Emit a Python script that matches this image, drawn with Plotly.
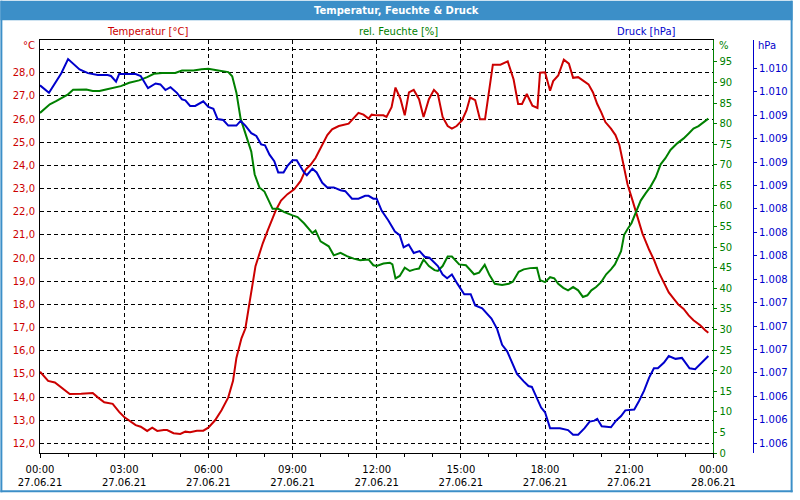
import plotly.graph_objects as go
import pandas as pd

# ---------------- data ----------------
temp_h = [0, 0.29, 0.53, 0.76, 1.06, 1.47, 1.71, 1.88, 2.06, 2.29, 2.59, 2.82, 3.00, 3.18, 3.41, 3.59, 3.82, 4.00,
          4.18, 4.41, 4.53, 4.76, 5.00, 5.18, 5.35, 5.59, 5.82, 6.00,
          6.24, 6.47, 6.71, 6.88, 7.00, 7.18, 7.32, 7.47, 7.59, 7.68, 7.79, 7.94, 8.12, 8.29, 8.41, 8.59, 8.82, 9.06,
          9.29, 9.47, 9.65, 9.82, 10.06, 10.24, 10.41, 10.65, 11.00, 11.18, 11.35, 11.53, 11.71, 11.82, 12.00,
          12.24, 12.35, 12.53, 12.67, 12.85, 13.00, 13.15, 13.32, 13.51, 13.67, 13.86, 14.04, 14.18, 14.35, 14.53,
          14.68, 14.85, 15.04, 15.20, 15.33, 15.51, 15.68, 15.86, 16.00, 16.14, 16.41, 16.67, 16.88, 17.04, 17.18,
          17.35, 17.55, 17.73, 17.82, 18.00,
          18.18, 18.29, 18.47, 18.67, 18.85, 19.00, 19.18, 19.41, 19.55, 19.71, 19.86, 20.00, 20.15, 20.35, 20.51,
          20.65, 20.79, 20.94, 21.12, 21.29, 21.47, 21.71, 21.88, 22.06, 22.24, 22.41, 22.59, 22.76, 22.94, 23.12,
          23.29, 23.53, 23.71, 23.82]
temp_v = [15.10, 14.70, 14.63, 14.42, 14.13, 14.14, 14.18, 14.18, 13.99, 13.78, 13.71, 13.36, 13.14, 13.00, 12.79,
          12.72, 12.54, 12.68, 12.54, 12.58, 12.58, 12.44, 12.41, 12.51, 12.48, 12.55, 12.55, 12.68,
          13.00, 13.43, 13.99, 14.70, 15.69, 16.54, 16.96, 18.09, 18.94, 19.65, 20.07, 20.64, 21.21, 21.77, 22.08,
          22.48, 22.76, 22.97, 23.33, 23.82, 24.04, 24.32, 24.88, 25.31, 25.56, 25.70, 25.80, 26.02, 26.27, 26.19,
          26.02, 26.19, 26.16,
          26.16, 26.09, 26.51, 27.36, 26.86, 26.16, 27.15, 27.26, 26.86, 26.09, 26.86, 27.26, 27.08, 26.09, 25.70,
          25.59, 25.70, 25.94, 26.37, 26.93, 26.82, 25.99, 25.99, 27.22, 28.35, 28.35, 28.49, 27.71, 26.65, 26.65,
          27.08, 26.58, 26.48, 28.00, 28.02,
          27.22, 27.64, 27.88, 28.56, 28.39, 27.78, 27.81, 27.64, 27.50, 27.15, 26.65, 26.30, 25.87, 25.59, 25.31,
          24.88, 24.04, 23.19, 22.48, 21.77, 21.07, 20.36, 19.93, 19.37, 18.94, 18.52, 18.24, 17.98, 17.81, 17.53,
          17.32, 17.10, 16.89, 16.78]

hum_h = [0, 0.18, 0.35, 0.59, 0.76, 1.00, 1.18, 1.47, 1.65, 1.88, 2.12, 2.35, 2.65, 2.88, 3.18, 3.53, 3.82, 4.06,
         4.35, 4.82, 5.06, 5.47, 5.76, 6.00,
         6.35, 6.71, 6.85, 7.00, 7.15, 7.35, 7.53, 7.65, 7.82, 8.00, 8.14, 8.29, 8.49, 8.71, 9.00, 9.18, 9.41, 9.71,
         9.82, 10.00, 10.29, 10.47, 10.71, 10.94, 11.18, 11.41, 11.71, 11.88, 12.00,
         12.24, 12.47, 12.56, 12.67, 12.82, 13.00, 13.18, 13.35, 13.51, 13.67, 13.86, 14.06, 14.18, 14.35, 14.53,
         14.68, 14.94, 15.18, 15.47, 15.65, 15.85, 16.02, 16.21, 16.47, 16.71, 16.85, 17.06, 17.24, 17.47, 17.71,
         17.82, 18.00,
         18.18, 18.33, 18.47, 18.65, 18.82, 19.00, 19.18, 19.35, 19.51, 19.65, 19.82, 20.00, 20.18, 20.35, 20.49,
         20.71, 20.82, 20.96, 21.08, 21.24, 21.41, 21.59, 21.76, 21.94, 22.12, 22.29, 22.47, 22.71, 22.94, 23.12,
         23.29, 23.47, 23.65, 23.82]
hum_v = [82.6, 83.6, 84.7, 85.5, 86.1, 87.1, 88.2, 88.3, 88.3, 87.9, 87.9, 88.3, 88.7, 89.1, 89.9, 90.5, 91.3, 92.1,
         92.3, 92.3, 92.9, 92.9, 93.2, 93.3,
         92.9, 92.5, 91.5, 87.5, 81.2, 77.2, 73.2, 67.7, 64.5, 63.5, 61.3, 59.3, 59.3, 58.5, 57.7, 57.3, 55.8, 53.4,
         54.0, 51.4, 50.2, 48.0, 48.6, 47.8, 47.2, 46.8, 47.0, 45.6, 45.4,
         46.0, 46.2, 45.8, 42.4, 43.0, 45.0, 44.2, 44.6, 44.8, 47.0, 45.4, 44.4, 44.2, 45.4, 47.7, 47.7, 45.8, 45.6,
         43.4, 43.8, 45.7, 43.2, 41.1, 40.8, 41.1, 41.6, 44.0, 44.6, 44.9, 45.0, 42.0, 41.5,
         42.7, 42.4, 41.1, 40.1, 39.5, 40.3, 39.5, 37.9, 38.3, 39.5, 40.3, 41.5, 43.4, 44.6, 45.8, 49.0, 53.0, 54.6,
         55.8, 58.5, 61.3, 63.1, 64.7, 66.9, 70.1, 71.6, 73.6, 75.2, 76.4, 77.6, 78.8, 79.4, 80.4, 81.2]

pres_h = [0, 0.32, 0.76, 1.00, 1.41, 1.71, 2.06, 2.41, 2.53, 2.71, 2.82, 3.41, 3.59, 3.85, 4.12, 4.29, 4.47, 4.65,
          4.88, 5.06, 5.18, 5.35, 5.53, 5.76, 5.82, 6.00,
          6.18, 6.33, 6.53, 6.71, 7.00, 7.15, 7.32, 7.53, 7.71, 7.88, 8.02, 8.18, 8.35, 8.49, 8.68, 8.82, 9.00, 9.15,
          9.27, 9.41, 9.51, 9.71, 9.86, 10.06, 10.24, 10.47, 10.71, 10.88, 11.12, 11.35, 11.59, 11.71, 11.88, 12.00,
          12.18, 12.41, 12.65, 12.82, 12.96, 13.14, 13.32, 13.53, 13.71, 13.88, 14.18, 14.35, 14.51, 14.68, 14.88,
          15.12, 15.35, 15.51, 15.76, 16.09, 16.29, 16.47, 16.65, 16.82, 17.00, 17.24, 17.41, 17.53, 17.71, 17.86,
          18.00,
          18.18, 18.53, 18.82, 19.00, 19.18, 19.41, 19.59, 19.76, 19.86, 20.02, 20.35, 20.53, 20.71, 20.86, 21.18,
          21.35, 21.53, 21.71, 21.88, 22.02, 22.24, 22.41, 22.65, 22.88, 23.15, 23.35, 23.59, 23.82]
pres_v = [1009.62, 1009.54, 1009.75, 1009.90, 1009.79, 1009.75, 1009.73, 1009.73, 1009.72, 1009.66, 1009.74,
          1009.74, 1009.72, 1009.59, 1009.64, 1009.63, 1009.57, 1009.60, 1009.54, 1009.47, 1009.46, 1009.40,
          1009.40, 1009.44, 1009.45, 1009.39,
          1009.37, 1009.26, 1009.25, 1009.19, 1009.19, 1009.24, 1009.19, 1009.11, 1009.08, 1008.99, 1008.98,
          1008.88, 1008.81, 1008.69, 1008.69, 1008.76, 1008.82, 1008.82, 1008.76, 1008.69, 1008.66, 1008.73,
          1008.69, 1008.58, 1008.53, 1008.53, 1008.50, 1008.49, 1008.41, 1008.41, 1008.44, 1008.44, 1008.41,
          1008.41,
          1008.28, 1008.18, 1008.06, 1008.02, 1007.89, 1007.92, 1007.83, 1007.85, 1007.79, 1007.78, 1007.69,
          1007.60, 1007.56, 1007.60, 1007.50, 1007.39, 1007.39, 1007.27, 1007.24, 1007.13, 1007.02, 1006.85,
          1006.78, 1006.66, 1006.54, 1006.46, 1006.41, 1006.40, 1006.29, 1006.18, 1006.13,
          1005.96, 1005.96, 1005.94, 1005.89, 1005.89, 1005.96, 1006.03, 1006.04, 1006.06, 1005.98, 1005.97,
          1006.04, 1006.09, 1006.15, 1006.16, 1006.25, 1006.36, 1006.50, 1006.60, 1006.60, 1006.66, 1006.73,
          1006.70, 1006.71, 1006.60, 1006.59, 1006.66, 1006.73]

temp_ticks = list(range(12, 30))
hum_ticks = list(range(0, 100, 5))
pres_ticks = [1005.8 + 0.25 * k for k in range(17)]

start = pd.Timestamp("2021-06-27 00:00")
end = pd.Timestamp("2021-06-28 00:00")


def to_time(hours):
    return [start + pd.Timedelta(hours=h) for h in hours]


RED = "#cc0000"
GREEN = "#008000"
BLUE = "#0000cc"
FRAME = "#3c8fc8"
FONT = "DejaVu Sans"

fig = go.Figure()
fig.add_trace(go.Scatter(x=to_time(temp_h), y=temp_v, mode="lines", line=dict(color=RED, width=2),
                         yaxis="y", name="Temperatur [°C]"))
fig.add_trace(go.Scatter(x=to_time(hum_h), y=hum_v, mode="lines", line=dict(color=GREEN, width=2),
                         yaxis="y2", name="rel. Feuchte [%]"))
fig.add_trace(go.Scatter(x=to_time(pres_h), y=pres_v, mode="lines", line=dict(color=BLUE, width=2),
                         yaxis="y3", name="Druck [hPa]"))

L, T, W, H = 40, 40, 720, 420


def px(x):
    return (x - L) / W


def py(y):
    return (T + H - y) / H


fig.update_layout(
    width=800, height=500,
    margin=dict(l=40, r=40, t=40, b=40),
    paper_bgcolor="white", plot_bgcolor="white",
    separators=",.",
    showlegend=False,
    font=dict(family=FONT, size=10, color="black"),
    xaxis=dict(
        type="date", domain=[0, 680 / 720], range=[start, end],
        tick0=start, dtick=3 * 3600000, tickformat="%H:%M<br>%d.%m.%y",
        showgrid=True, gridcolor="black", gridwidth=1, griddash="4px,3px",
        showline=True, linecolor="black", linewidth=1, mirror=True,
        ticks="outside", ticklen=4, tickcolor="black",
        minor=dict(dtick=3600000, ticks="outside", ticklen=3, tickcolor="black", showgrid=False),
        tickfont=dict(family=FONT, size=10, color="black"),
        ticklabelstandoff=3,
        zeroline=False,
    ),
    yaxis=dict(
        range=[11.588, 29.413], tickmode="array", tickvals=temp_ticks,
        ticktext=[("%.1f" % v).replace(".", ",") for v in temp_ticks[:-1]] + [""],
        showgrid=True, gridcolor="black", gridwidth=1, griddash="4px,3px",
        showline=True, linecolor="black", linewidth=1,
        ticks="", tickfont=dict(family=FONT, size=10, color=RED), zeroline=False,
        ticklabelstandoff=2,
    ),
    yaxis2=dict(
        range=[0, 100.3], overlaying="y", side="right", anchor="x",
        tickmode="array", tickvals=hum_ticks,
        showgrid=False, showline=True, linecolor=GREEN, linewidth=1,
        ticks="outside", ticklen=3, tickcolor=GREEN,
        tickfont=dict(family=FONT, size=10, color=GREEN), zeroline=False,
    ),
    yaxis3=dict(
        range=[1005.695, 1010.104], overlaying="y", side="right", anchor="free", position=1.0,
        tickmode="array", tickvals=pres_ticks, tickformat=",.0f",
        showgrid=False, showline=True, linecolor=BLUE, linewidth=1,
        ticks="outside", ticklen=3, tickcolor=BLUE,
        tickfont=dict(family=FONT, size=10, color=BLUE), zeroline=False,
    ),
)

shapes = [
    dict(type="rect", xref="paper", yref="paper", x0=px(0), x1=px(800), y0=py(20), y1=py(0),
         fillcolor=FRAME, line=dict(width=0), layer="above"),
    dict(type="rect", xref="paper", yref="paper", x0=px(0), x1=px(2), y0=py(500), y1=py(0),
         fillcolor=FRAME, line=dict(width=0), layer="above"),
    dict(type="rect", xref="paper", yref="paper", x0=px(798), x1=px(800), y0=py(500), y1=py(0),
         fillcolor=FRAME, line=dict(width=0), layer="above"),
    dict(type="rect", xref="paper", yref="paper", x0=px(0), x1=px(800), y0=py(500), y1=py(498),
         fillcolor=FRAME, line=dict(width=0), layer="above"),
]
fig.update_layout(shapes=shapes)

ann = [
    dict(text="<b>Temperatur, Feuchte &amp; Druck</b>", x=px(400), y=py(10), xanchor="center", yanchor="middle",
         font=dict(family=FONT, size=10, color="white")),
    dict(text="Temperatur [°C]", x=px(149), y=py(31), xanchor="center", yanchor="middle",
         font=dict(family=FONT, size=10, color=RED)),
    dict(text="rel. Feuchte [%]", x=px(402), y=py(31), xanchor="center", yanchor="middle",
         font=dict(family=FONT, size=10, color=GREEN)),
    dict(text="Druck [hPa]", x=px(652), y=py(31), xanchor="center", yanchor="middle",
         font=dict(family=FONT, size=10, color=BLUE)),
    dict(text="°C", x=px(37), y=py(46), xanchor="right", yanchor="middle",
         font=dict(family=FONT, size=10, color=RED)),
    dict(text="%", x=px(724), y=py(46), xanchor="left", yanchor="middle",
         font=dict(family=FONT, size=10, color=GREEN)),
    dict(text="hPa", x=px(763), y=py(46), xanchor="left", yanchor="middle",
         font=dict(family=FONT, size=10, color=BLUE)),
]
for a in ann:
    a.update(xref="paper", yref="paper", showarrow=False)
fig.update_layout(annotations=ann)

fig.write_html("out.html")
